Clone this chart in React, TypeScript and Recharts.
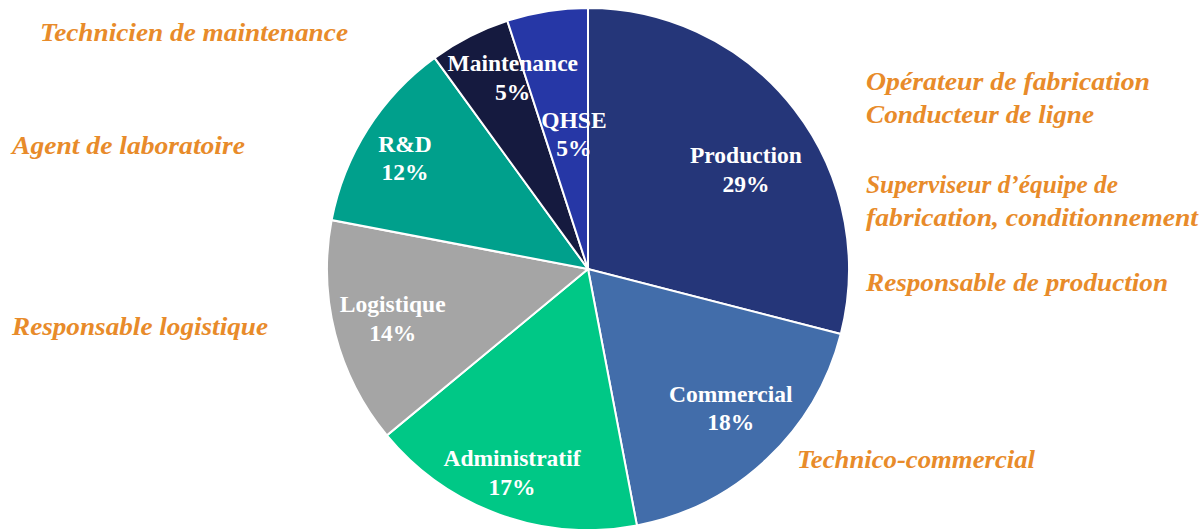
import { PieChart, Pie, Cell } from "recharts";

const categories = ["Production", "Commercial", "Administratif", "Logistique", "R&D", "Maintenance", "QHSE"];
const shares = [29, 18, 17, 14, 12, 5, 5];
const sliceColors = ["#253679", "#426DAA", "#00C886", "#A5A5A5", "#00A08C", "#151A3F", "#2637A6"];

const data = categories.map((name, i) => ({ name, value: shares[i] }));

// job titles written around the pie
const jobTitles = [
  "Technicien de maintenance",
  "Agent de laboratoire",
  "Responsable logistique",
  "Opérateur de fabrication",
  "Conducteur de ligne",
  "Superviseur d’équipe de",
  "fabrication, conditionnement",
  "Responsable de production",
  "Technico-commercial",
];

const titlePos: Record<string, { x: number; y: number; w: number }> = {
  "Technicien de maintenance": { x: 40, y: 41, w: 308 },
  "Agent de laboratoire": { x: 12, y: 154, w: 233 },
  "Responsable logistique": { x: 12, y: 335, w: 256 },
  "Opérateur de fabrication": { x: 866, y: 90, w: 284 },
  "Conducteur de ligne": { x: 866, y: 123, w: 228 },
  "Superviseur d’équipe de": { x: 866, y: 193, w: 252 },
  "fabrication, conditionnement": { x: 866, y: 226, w: 332 },
  "Responsable de production": { x: 866, y: 291, w: 302 },
  "Technico-commercial": { x: 797, y: 468, w: 238 },
};

// label placement inside slices: radius factor + angle nudge (degrees, clockwise)
const labelPlace: Record<string, { r: number; a: number }> = {
  Production: { r: 0.7, a: 7.6 },
  Commercial: { r: 0.785, a: -1 },
  Administratif: { r: 0.86, a: 0 },
  Logistique: { r: 0.78, a: -2 },
  "R&D": { r: 0.805, a: -3 },
  Maintenance: { r: 0.76, a: 4.7 },
  QHSE: { r: 0.49, a: 2.7 },
};

const RADIAN = Math.PI / 180;
const serif = "Liberation Serif, Times New Roman, serif";

function renderLabel(props: any) {
  const { cx, cy, midAngle, outerRadius, name, value } = props;
  const p = labelPlace[name] ?? { r: 0.7, a: 0 };
  const r = outerRadius * p.r;
  const ang = midAngle - p.a;
  const x = cx + r * Math.cos(-ang * RADIAN);
  const y = cy + r * Math.sin(-ang * RADIAN);
  return (
    <text
      x={x}
      y={y}
      fill="#ffffff"
      textAnchor="middle"
      style={{ fontFamily: serif, fontWeight: 600, fontSize: 23.5 }}
    >
      <tspan x={x} y={y - 14}>{name}</tspan>
      <tspan x={x} y={y + 14.5}>{value}%</tspan>
    </text>
  );
}

export default function App() {
  return (
    <div style={{ position: "absolute", left: 0, top: 0, width: 1202, height: 529, background: "#fff" }}>
      <PieChart width={1202} height={529} margin={{ top: 0, right: 0, bottom: 0, left: 0 }}>
        <Pie
          data={data}
          dataKey="value"
          nameKey="name"
          cx={588}
          cy={269}
          outerRadius={261}
          startAngle={90}
          endAngle={-270}
          stroke="#ffffff"
          strokeWidth={2}
          label={renderLabel}
          labelLine={false}
          isAnimationActive={false}
        >
          {data.map((d, i) => (
            <Cell key={d.name} fill={sliceColors[i]} />
          ))}
        </Pie>
      </PieChart>
      <svg width={1202} height={529} style={{ position: "absolute", left: 0, top: 0, pointerEvents: "none" }}>
        {jobTitles.map((t) => (
          <text
            key={t}
            x={titlePos[t].x}
            y={titlePos[t].y}
            fill="#E88B2A"
            style={{ fontFamily: serif, fontStyle: "italic", fontWeight: 700, fontSize: 25 }}
            textLength={titlePos[t].w}
            lengthAdjust="spacingAndGlyphs"
          >
            {t}
          </text>
        ))}
      </svg>
    </div>
  );
}
